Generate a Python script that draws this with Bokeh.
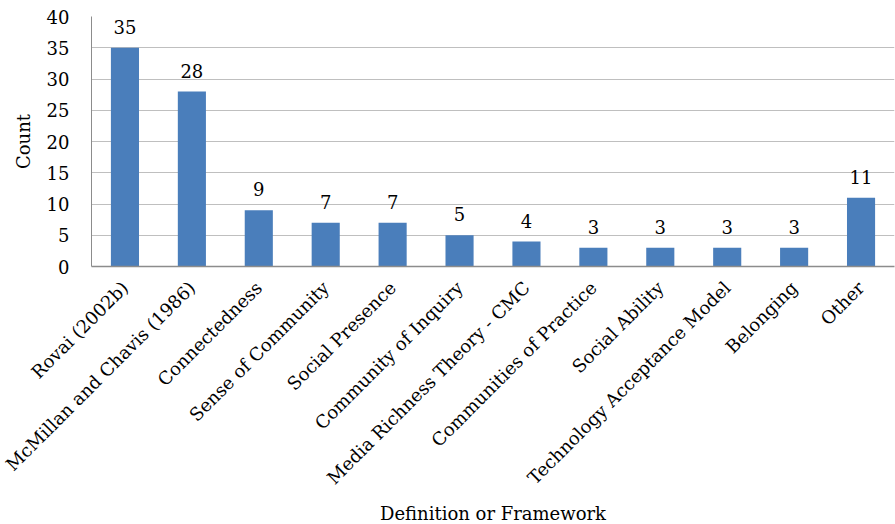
from bokeh.plotting import figure
from bokeh.models import ColumnDataSource, FactorRange, Range1d, FixedTicker, LabelSet
from bokeh.embed import file_html
from bokeh.resources import INLINE
from bokeh.core.properties import value
import math

categories = [
    "Rovai (2002b)",
    "McMillan and Chavis (1986)",
    "Connectedness",
    "Sense of Community",
    "Social Presence",
    "Community of Inquiry",
    "Media Richness Theory - CMC",
    "Communities of Practice",
    "Social Ability",
    "Technology Acceptance Model",
    "Belonging",
    "Other",
]
counts = [35, 28, 9, 7, 7, 5, 4, 3, 3, 3, 3, 11]
y_ticks = [0, 5, 10, 15, 20, 25, 30, 35, 40]

FONT = "DejaVu Serif"
FS = "18px"
BAR = "#4a7ebb"

source = ColumnDataSource(dict(cat=categories, n=counts, lbl=[str(c) for c in counts]))

p = figure(
    x_range=FactorRange(*categories, range_padding=0),
    y_range=Range1d(0, 40),
    frame_width=803, frame_height=250,
    min_border_left=91, min_border_top=16, min_border_right=1, min_border_bottom=240,
    output_backend="svg", toolbar_location=None,
)
p.outline_line_color = None
p.background_fill_color = "white"
p.border_fill_color = "white"

p.vbar(x="cat", top="n", width=0.42, source=source, color=BAR, line_color=None)

# value labels above each bar
labels = LabelSet(x="cat", y="n", text="lbl", source=source,
                  text_align="center", text_baseline="alphabetic", y_offset=14,
                  text_font=value(FONT), text_font_size=value(FS), text_color="black")
p.add_layout(labels)

# y axis
p.yaxis.ticker = FixedTicker(ticks=y_ticks)
p.yaxis.axis_label = "Count"
p.yaxis.axis_label_text_font = FONT
p.yaxis.axis_label_text_font_size = FS
p.yaxis.axis_label_text_font_style = "normal"
p.yaxis.axis_label_text_color = "black"
p.yaxis.axis_label_standoff = 10
p.yaxis.major_label_text_font = FONT
p.yaxis.major_label_text_font_size = FS
p.yaxis.major_label_text_color = "black"
p.yaxis.major_label_standoff = 16
p.yaxis.major_tick_line_color = None
p.yaxis.minor_tick_line_color = None
p.yaxis.axis_line_color = "#8c8c8c"

# x axis
p.xaxis.axis_label = "Definition or Framework"
p.xaxis.axis_label_text_font = FONT
p.xaxis.axis_label_text_font_size = FS
p.xaxis.axis_label_text_font_style = "normal"
p.xaxis.axis_label_text_color = "black"
p.xaxis.axis_label_standoff = 4
p.xaxis.major_label_text_font = FONT
p.xaxis.major_label_text_font_size = FS
p.xaxis.major_label_text_color = "black"
p.xaxis.major_label_orientation = math.pi / 4
p.xaxis.major_label_standoff = 12
p.xaxis.major_tick_line_color = None
p.xaxis.axis_line_color = "#8c8c8c"
p.xaxis.axis_line_width = 1.5

p.xgrid.grid_line_color = None
p.ygrid.grid_line_color = "#bfbfbf"
p.ygrid.grid_line_width = 1

open("out.html", "w").write(file_html(p, INLINE))
